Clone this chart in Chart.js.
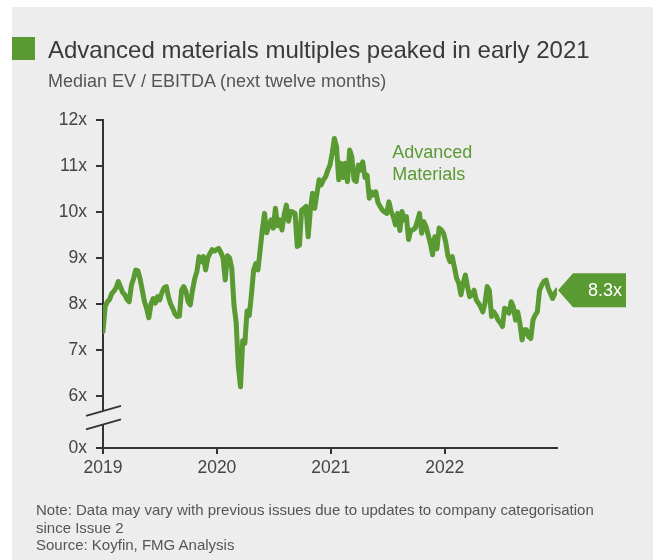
<!DOCTYPE html>
<html>
<head>
<meta charset="utf-8">
<script src="https://cdn.jsdelivr.net/npm/chart.js@4"></script>
<style>
  body { margin:0; background:#fff; width:655px; height:560px; position:relative; overflow:hidden;
         font-family:"Liberation Sans", Arial, sans-serif; }
  .panel { position:absolute; left:12px; top:7px; width:641px; height:553px; background:#ededed; }
  canvas { position:absolute; left:0; top:0; }
  .marker { position:absolute; left:12px; top:37px; width:23px; height:23px; background:#5a9a32; }
  .title { position:absolute; left:48px; top:38px; font-size:24px; line-height:1; color:#3a3a3a; white-space:nowrap; }
  .subtitle { position:absolute; left:48px; top:72px; font-size:18px; line-height:1; color:#555; white-space:nowrap; }
  .notes { position:absolute; left:36px; top:501px; font-size:15px; line-height:17.5px; color:#555; }
</style>
</head>
<body>
<div class="panel"></div>
<canvas id="chart" width="655" height="560"></canvas>
<div class="marker"></div>
<div class="title">Advanced materials multiples peaked in early 2021</div>
<div class="subtitle">Median EV / EBITDA (next twelve months)</div>
<div class="notes">Note: Data may vary with previous issues due to updates to company categorisation<br>since Issue 2<br>Source: Koyfin, FMG Analysis</div>
<script>
// ===========data=======================/
// weekly median EV/EBITDA, first week of 2019 to last week of 2022
const seriesName = ["Advanced", "Materials"];
const values = [
  7.40, 7.95, 8.05, 8.10, 8.23, 8.28, 8.35, 8.49, 8.38, 8.25,
  8.20, 8.10, 8.05, 8.40, 8.55, 8.74, 8.72, 8.55, 8.30, 8.05,
  7.90, 7.70, 8.00, 8.12, 8.02, 8.16, 8.09, 8.25, 8.35, 8.38,
  8.15, 8.00, 7.90, 7.78, 7.73, 7.74, 8.30, 8.38, 8.27, 8.05,
  7.98, 8.30, 8.55, 8.70, 9.03, 8.92, 9.03, 8.74, 9.00, 9.10,
  9.18, 9.15, 9.18, 9.21, 9.12, 9.00, 8.52, 9.05, 9.00, 8.78,
  7.98, 7.60, 6.64, 6.20, 7.20, 7.15, 7.85, 7.75, 8.20, 8.74,
  8.88, 8.74, 9.18, 9.61, 9.97, 9.55, 9.70, 9.83, 9.65, 10.08,
  9.70, 9.83, 9.61, 9.94, 10.15, 9.80, 10.01, 10.00, 9.97, 9.25,
  9.28, 10.04, 10.08, 10.12, 9.46, 10.04, 10.41, 10.08, 10.40, 10.70,
  10.59, 10.70, 10.77, 10.91, 11.02, 11.28, 11.60, 11.42, 10.70, 11.06,
  10.75, 11.06, 10.66, 11.35, 11.20, 10.70, 10.66, 11.02, 10.91, 11.09,
  10.75, 10.80, 10.30, 10.44, 10.37, 10.44, 10.20, 10.12, 10.04, 10.00,
  9.97, 10.22, 10.01, 9.90, 9.72, 9.97, 9.60, 10.01, 9.83, 9.90,
  9.40, 9.61, 9.61, 9.65, 9.79, 9.97, 9.54, 9.79, 9.68, 9.50,
  9.32, 9.07, 9.46, 9.20, 9.65, 9.61, 9.54, 9.35, 9.05, 8.92,
  9.03, 8.80, 8.56, 8.45, 8.20, 8.45, 8.63, 8.38, 8.16, 8.20,
  8.30, 8.09, 8.02, 7.94, 7.83, 8.02, 8.38, 8.30, 7.73, 7.83,
  7.76, 7.65, 7.60, 7.51, 7.91, 7.87, 7.80, 8.05, 7.94, 7.65,
  7.83, 7.58, 7.22, 7.44, 7.44, 7.29, 7.25, 7.65, 7.76, 7.83,
  8.30, 8.41, 8.49, 8.52, 8.34, 8.23, 8.12, 8.23, 8.30
];
const startYear = 2019;
const yearTicks = [2019, 2020, 2021, 2022];
const yTicks = [0, 6, 7, 8, 9, 10, 11, 12];
const breakFloor = 4.87; // where the "0x" tick sits below the axis break

const green = "#5a9a32";
const panelColor = "#ededed";
const axisColor = "#333";

const points = values.map((v, i) => ({ x: startYear + i * 7 / 365.25, y: v }));

//===========axis break, series label and last value tag=======================/
const extras = {
  id: "extras",
  afterDraw(chart) {
    const ctx = chart.ctx;
    const y = chart.scales.y;
    const x = chart.scales.x;
    const area = chart.chartArea;

    // break marks on the y axis
    const ax = area.left;
    const y6 = y.getPixelForValue(6);
    const yb = y6 + 0.42 * (y.getPixelForValue(breakFloor) - y6);
    ctx.save();
    ctx.fillStyle = panelColor;
    ctx.fillRect(ax - 3, yb - 7, 6, 13.5);
    ctx.strokeStyle = axisColor;
    ctx.lineWidth = 2;
    [-7, 6.5].forEach(dy => {
      ctx.beginPath();
      ctx.moveTo(ax - 17, yb + dy + 5);
      ctx.lineTo(ax + 18, yb + dy - 5);
      ctx.stroke();
    });

    // series name
    ctx.fillStyle = green;
    ctx.font = '18px "Liberation Sans", Arial, sans-serif';
    ctx.textAlign = "left";
    ctx.textBaseline = "alphabetic";
    const lx = x.getPixelForValue(2021.54);
    const ly = y.getPixelForValue(11.17);
    ctx.fillText(seriesName[0], lx, ly);
    ctx.fillText(seriesName[1], lx, ly + 22);

    // last value tag
    const last = values[values.length - 1];
    const py = y.getPixelForValue(last);
    const tip = area.right + 1;
    ctx.beginPath();
    ctx.moveTo(tip, py);
    ctx.lineTo(tip + 15, py - 17);
    ctx.lineTo(tip + 68, py - 17);
    ctx.lineTo(tip + 68, py + 17);
    ctx.lineTo(tip + 15, py + 17);
    ctx.closePath();
    ctx.fill();
    ctx.fillStyle = "#fff";
    ctx.textAlign = "right";
    ctx.textBaseline = "middle";
    ctx.fillText(last.toFixed(1) + "x", tip + 64, py + 1);
    ctx.restore();
  }
};

//===========line chart=======================/
const chart = document.getElementById("chart");

new Chart(chart, {
  type: "line",
  data: {
    datasets: [{
      label: seriesName.join(" "),
      data: points,
      borderColor: green,
      borderWidth: 5,
      pointRadius: 0,
      tension: 0,
      borderJoinStyle: "round",
      borderCapStyle: "round"
    }]
  },
  options: {
    responsive: false,
    animation: false,
    layout: { padding: { left: 0, right: 98, top: 120, bottom: 0 } },
    plugins: { legend: { display: false }, tooltip: { enabled: false } },
    scales: {
      x: {
        type: "linear",
        min: startYear,
        max: points[points.length - 1].x,
        afterBuildTicks: scale => { scale.ticks = yearTicks.map(v => ({ value: v })); },
        afterFit: scale => { scale.height = 112; },
        grid: { drawOnChartArea: false, color: axisColor, lineWidth: 2, tickLength: 6 },
        border: { color: axisColor, width: 2 },
        ticks: {
          color: "#444",
          padding: 4,
          font: { family: '"Liberation Sans", Arial, sans-serif', size: 17.5 },
          callback: v => String(v)
        }
      },
      y: {
        min: breakFloor,
        max: 12,
        afterBuildTicks: scale => {
          scale.ticks = yTicks.map(v => ({ value: v === 0 ? breakFloor : v }));
        },
        afterFit: scale => { scale.width = 103; },
        grid: { drawOnChartArea: false, color: axisColor, lineWidth: 2, tickLength: 7 },
        border: { color: axisColor, width: 2 },
        ticks: {
          color: "#444",
          padding: 9,
          font: { family: '"Liberation Sans", Arial, sans-serif', size: 17.5 },
          callback: v => (v === breakFloor ? 0 : v) + "x"
        }
      }
    }
  },
  plugins: [extras]
});
</script>
</body>
</html>
